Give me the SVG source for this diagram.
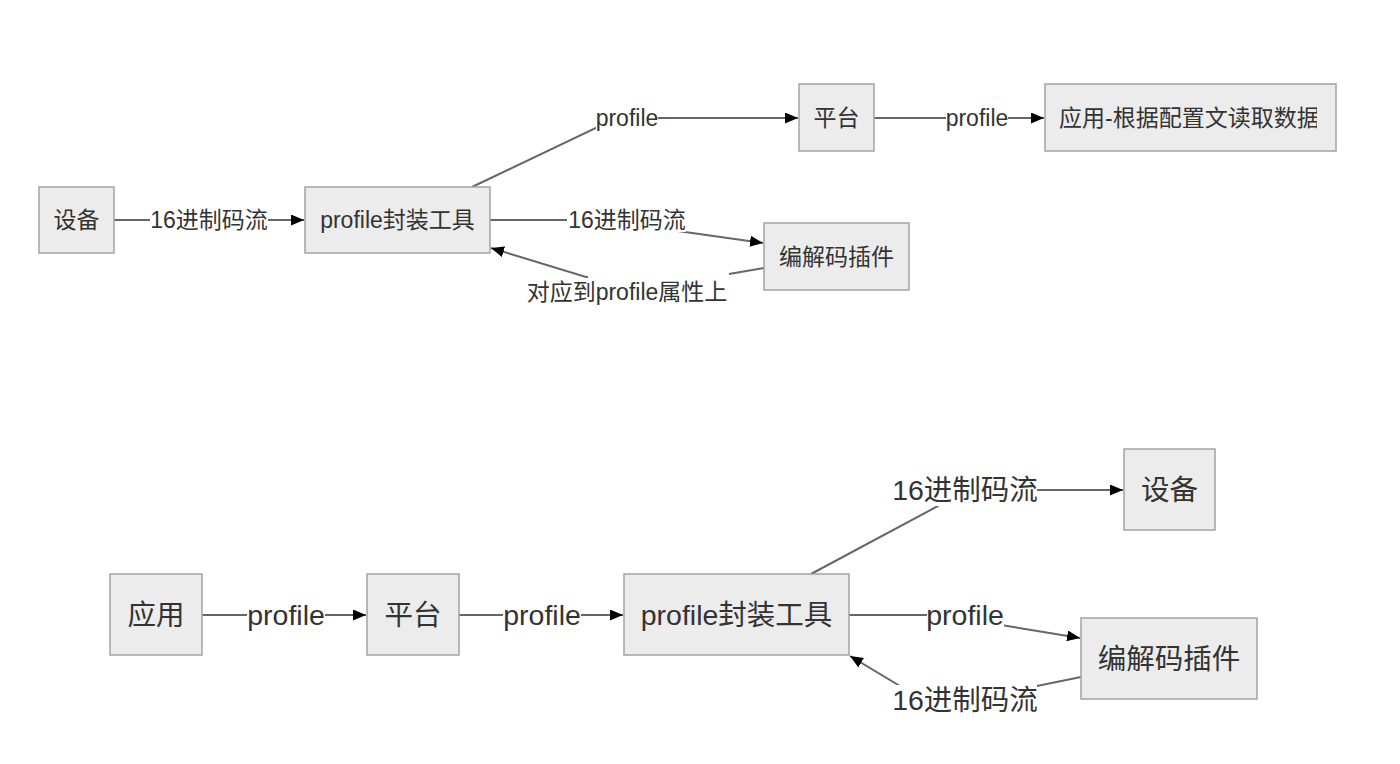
<svg xmlns="http://www.w3.org/2000/svg" width="1400" height="764" viewBox="0 0 1400 764">
<defs>
<style>
.node rect{fill:#ececec;stroke:#a3a3a3;stroke-width:1.5}
.t{font-family:"Liberation Sans","Noto Sans CJK SC",sans-serif;fill:#333;text-anchor:middle;dominant-baseline:central}
.s{font-size:23px}
.b{font-size:28.5px}
.edge{fill:none;stroke:#666;stroke-width:2}
.lb{fill:#fff}
</style>
<marker id="arr" viewBox="0 0 13 11" refX="13" refY="5.5" markerWidth="13" markerHeight="11" markerUnits="userSpaceOnUse" orient="auto">
<path d="M0,0 L13,5.5 L0,11 z" fill="#000"/>
</marker>
<clipPath id="clipApp"><rect x="1045" y="84" width="272" height="67"/></clipPath>
</defs>
<rect width="1400" height="764" fill="#fff"/>
<g id="connectors">
<path class="edge" d="M114,220 L304,220" marker-end="url(#arr)"/>
<path class="edge" d="M472,187 L598,127 Q606,118 620,118 L798,118" marker-end="url(#arr)"/>
<path class="edge" d="M874,118 L1044,118" marker-end="url(#arr)"/>
<path class="edge" d="M490,220 L600,220 L763,243" marker-end="url(#arr)"/>
<path class="edge" d="M764,268 L729,274 L586,277 L491,248" marker-end="url(#arr)"/>
<path class="edge" d="M202,615 L366,615" marker-end="url(#arr)"/>
<path class="edge" d="M459,615 L623,615" marker-end="url(#arr)"/>
<path class="edge" d="M811,574 L938,506 Q950,490 965,490 L1123,490" marker-end="url(#arr)"/>
<path class="edge" d="M849,615 L940,615 L1080,638" marker-end="url(#arr)"/>
<path class="edge" d="M1081,677 L1037,686 L900,686 L850,656" marker-end="url(#arr)"/>
<g id="edge-labels">
<rect class="lb" x="150" y="208" width="118" height="24"/><text class="t s" x="209" y="220">16进制码流</text>
<rect class="lb" x="596" y="106" width="62" height="24"/><text class="t s" x="627" y="118">profile</text>
<rect class="lb" x="946" y="106" width="62" height="24"/><text class="t s" x="977" y="118">profile</text>
<rect class="lb" x="567" y="208" width="119" height="24"/><text class="t s" x="627" y="220">16进制码流</text>
<rect class="lb" x="588" y="270" width="141" height="34"/><rect class="lb" x="526" y="280" width="203" height="24"/><text class="t s" x="627" y="292">对应到profile属性上</text>
<rect class="lb" x="247" y="600" width="78" height="30"/><text class="t b" x="286" y="615">profile</text>
<rect class="lb" x="503" y="600" width="78" height="30"/><text class="t b" x="542" y="615">profile</text>
<rect class="lb" x="893" y="475" width="144" height="31"/><text class="t b" x="965" y="490">16进制码流</text>
<rect class="lb" x="927" y="600" width="77" height="30"/><text class="t b" x="965" y="615">profile</text>
<rect class="lb" x="893" y="685" width="144" height="30"/><text class="t b" x="965" y="700">16进制码流</text>
</g>
</g>
<g id="n-dev1" class="node"><rect x="39" y="187" width="75" height="66"/><text class="t s" x="76.5" y="220">设备</text></g>
<g id="n-tool1" class="node"><rect x="305" y="187" width="185" height="66"/><text class="t s" x="397.5" y="220">profile封装工具</text></g>
<g id="n-plat1" class="node"><rect x="799" y="84" width="75" height="67"/><text class="t s" x="836.5" y="118">平台</text></g>
<g id="n-app1" class="node"><rect x="1045" y="84" width="291" height="67"/><text class="t s" x="1059" y="118" style="text-anchor:start" clip-path="url(#clipApp)">应用-根据配置文读取数据</text></g>
<g id="n-codec1" class="node"><rect x="764" y="223" width="145" height="67"/><text class="t s" x="836.5" y="257">编解码插件</text></g>
<g id="n-app2" class="node"><rect x="110" y="574" width="92" height="81"/><text class="t b" x="156" y="615">应用</text></g>
<g id="n-plat2" class="node"><rect x="367" y="574" width="92" height="81"/><text class="t b" x="413" y="615">平台</text></g>
<g id="n-tool2" class="node"><rect x="624" y="574" width="225" height="81"/><text class="t b" x="736.5" y="615">profile封装工具</text></g>
<g id="n-dev2" class="node"><rect x="1124" y="449" width="91" height="81"/><text class="t b" x="1169.5" y="490">设备</text></g>
<g id="n-codec2" class="node"><rect x="1081" y="618" width="176" height="81"/><text class="t b" x="1169" y="659">编解码插件</text></g>
</svg>
